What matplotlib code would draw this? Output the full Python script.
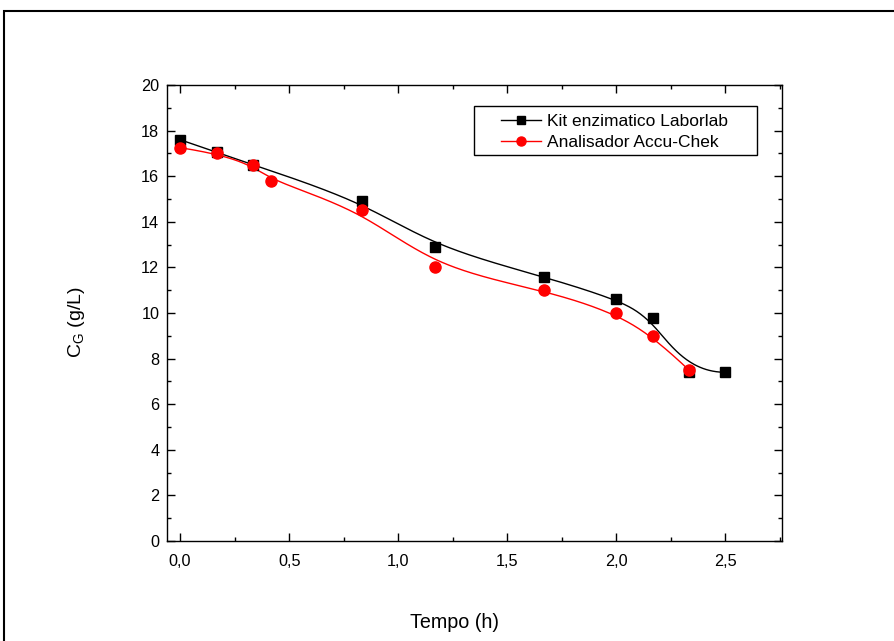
#!/usr/bin/env python3
"""Glucose concentration vs time: enzymatic kit vs Accu-Chek analyser."""

import matplotlib

matplotlib.use("Agg")
import matplotlib.pyplot as plt
import numpy as np
from matplotlib.patches import Rectangle
from matplotlib.ticker import FuncFormatter, MultipleLocator

plt.rcParams["font.family"] = ["Liberation Sans", "DejaVu Sans"]

# data
tempo_kit = [0.0, 0.167, 0.333, 0.833, 1.167, 1.667, 2.0, 2.167, 2.333, 2.5]
cg_kit = [17.6, 17.05, 16.5, 14.9, 12.9, 11.6, 10.6, 9.8, 7.4, 7.4]
tempo_accu = [0.0, 0.167, 0.333, 0.417, 0.833, 1.167, 1.667, 2.0, 2.167, 2.333]
cg_accu = [17.25, 17.0, 16.5, 15.8, 14.5, 12.0, 11.0, 10.0, 9.0, 7.5]

label_kit = "Kit enzimatico Laborlab"
label_accu = "Analisador Accu-Chek"


def bspline(xs, ys, n=400):
    """Clamped cubic B-spline using the points as control points (Origin style)."""
    pts = np.column_stack([xs, ys]).astype(float)
    k = 3
    m = len(pts)
    knots = np.concatenate([np.zeros(k), np.linspace(0, 1, m - k + 1), np.ones(k)])
    out = []
    for t in np.linspace(0, 1, n):
        if t >= 1.0:
            out.append(pts[-1])
            continue
        span = np.searchsorted(knots, t, side="right") - 1
        d = [pts[j + span - k].copy() for j in range(k + 1)]
        for r in range(1, k + 1):
            for j in range(k, r - 1, -1):
                i = j + span - k
                a = (t - knots[i]) / (knots[i + k + 1 - r] - knots[i])
                d[j] = (1 - a) * d[j - 1] + a * d[j]
        out.append(d[k])
    out = np.array(out)
    return out[:, 0], out[:, 1]


fig = plt.figure(figsize=(8.94, 6.41), dpi=100)
ax = fig.add_axes([167 / 894, 1 - 541 / 641, 615 / 894, 456 / 641])

# outer frame around the figure
fig.patches.append(Rectangle((4 / 894, -0.05), 1.0, 1 - 11 / 641 + 0.05,
                             transform=fig.transFigure, fill=False,
                             edgecolor="black", linewidth=1.5))

xk, yk = bspline(tempo_kit, cg_kit)
xa, ya = bspline(tempo_accu, cg_accu)
ax.plot(xk, yk, color="black", lw=1.0, zorder=2)
ax.plot(xa, ya, color="red", lw=1.0, zorder=2)
ax.plot(tempo_kit, cg_kit, ls="none", marker="s", ms=7, color="black", zorder=3)
ax.plot(tempo_accu, cg_accu, ls="none", marker="o", ms=8, color="red", zorder=4)

# legend proxies: line + marker, with an Origin-like wide frame drawn separately
ax.plot([], [], color="black", lw=1.0, marker="s", ms=6, label=label_kit)
ax.plot([], [], color="red", lw=1.0, marker="o", ms=6.5, label=label_accu)
leg = ax.legend(loc="center", bbox_to_anchor=(0.728, 0.897), fontsize=12.5,
                frameon=False, borderpad=0, handlelength=2.3,
                handletextpad=0.35, labelspacing=0.38, borderaxespad=0)
ax.add_patch(Rectangle((0.499, 0.846), 0.46, 0.108, transform=ax.transAxes,
                       fill=False, edgecolor="black", linewidth=1.0, zorder=5))

ax.set_xlim(-0.06, 2.76)
ax.set_ylim(0, 20)
ax.xaxis.set_major_locator(MultipleLocator(0.5))
ax.xaxis.set_minor_locator(MultipleLocator(0.25))
ax.yaxis.set_major_locator(MultipleLocator(2))
ax.yaxis.set_minor_locator(MultipleLocator(1))
ax.xaxis.set_major_formatter(FuncFormatter(lambda v, p: f"{v:.1f}".replace(".", ",")))
ax.yaxis.set_major_formatter(FuncFormatter(lambda v, p: f"{v:.0f}"))
ax.tick_params(which="both", direction="in", top=True, right=True, labelsize=11.7)
ax.tick_params(which="major", length=6, width=1)
ax.tick_params(which="minor", length=3, width=1)
ax.tick_params(axis="x", pad=9)
ax.tick_params(axis="y", pad=5.5)
for s in ax.spines.values():
    s.set_linewidth(1.0)

ax.set_xlabel("Tempo (h)", fontsize=14.2)
ax.xaxis.set_label_coords(0.467, -0.158)
ax.set_ylabel(r"C$_\mathregular{G}$ (g/L)", fontsize=14)
ax.yaxis.set_label_coords(-0.130, 0.48)

fig.savefig("out.png", dpi=100)
